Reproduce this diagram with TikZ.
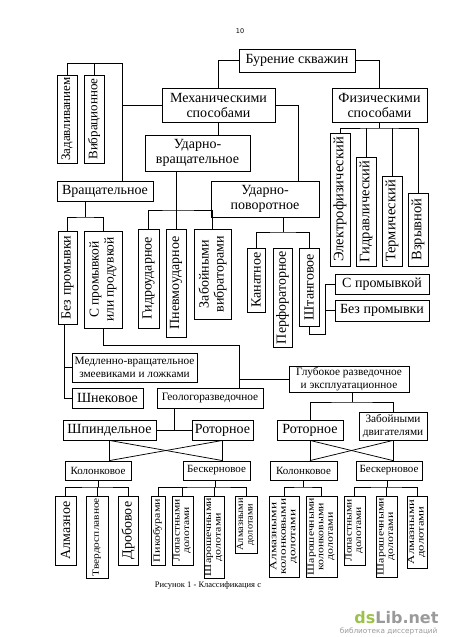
\documentclass[tikz,border=0pt]{standalone}
\usepackage{fontspec}
\setmainfont{Liberation Serif}
\newfontfamily\wmfont{DejaVu Sans}
\usepackage{graphicx}
\definecolor{wmgreen}{HTML}{9CC24A}
\definecolor{wmgray}{HTML}{9A9A9A}
\newcommand\fitb[2]{\resizebox{#1}{\height}{\begin{tabular}{@{}c@{}}#2\end{tabular}}}
\tikzset{
 bx/.style={draw, line width=0.85pt, inner sep=0pt},
 vb/.style={bx, rotate=90},
 fB/.style={font=\fontsize{14}{15}\selectfont},
 fZ/.style={font=\fontsize{13}{14}\selectfont},
 fE/.style={font=\fontsize{14.5}{15}\selectfont},
 fV/.style={font=\fontsize{13.5}{15}\selectfont},
 fM/.style={font=\fontsize{11.3}{12.5}\selectfont},
 fS/.style={font=\fontsize{11}{12}\selectfont},
 fT/.style={font=\fontsize{9.5}{9.5}\selectfont},
 ln/.style={line width=0.75pt},
}
\begin{document}
\begin{tikzpicture}[x=1pt,y=-1pt]
\useasboundingbox (0,0) rectangle (450,637);
\node[font=\wmfont\fontsize{6.5}{7}\selectfont] (pg) at (240,31) {10};
% level 1-2
\node[bx,fB,minimum width=116pt,minimum height=23pt] (bur) at (297,60.5) {Бурение скважин};
\node[bx,fB,align=center,minimum width=113pt,minimum height=34pt] (mech) at (218.5,105) {Механическими\\способами};
\node[bx,fB,align=center,minimum width=95pt,minimum height=34pt] (phys) at (379.5,105) {Физическими\\способами};
\node[vb,fZ,minimum width=88pt,minimum height=20pt] (zad) at (67,119) {Задавливанием};
\node[vb,fZ,minimum width=88pt,minimum height=20pt] (vib) at (94,119) {Вибрационное};
\node[bx,fB,minimum width=96pt,minimum height=20pt] (vrasch) at (105,191) {Вращательное};
\node[bx,fB,align=center,minimum width=105pt,minimum height=36pt] (udvr) at (197.5,153) {Ударно-\\вращательное};
\node[bx,fB,align=center,minimum width=108pt,minimum height=36pt] (udpov) at (265,199) {Ударно-\\поворотное};
\node[vb,fE,minimum width=133pt,minimum height=20pt] (elec) at (340,199.5) {Электрофизический};
\node[vb,fE,minimum width=109pt,minimum height=20pt] (gidr) at (366,211.5) {Гидравлический};
\node[vb,fE,minimum width=90pt,minimum height=20pt] (term) at (392,221) {Термический};
\node[vb,fE,minimum width=73pt,minimum height=20pt] (vzr) at (418,229.5) {Взрывной};
\node[vb,fB,minimum width=93pt,minimum height=19pt] (bez1) at (67.5,277.5) {Без промывки};
\node[vb,fV,align=center,minimum width=97pt,minimum height=38pt] (spromp) at (103,279.5) {С промывкой\\или продувкой};
\node[vb,fB,minimum width=99pt,minimum height=21pt] (gidroud) at (148.5,278.5) {Гидроударное};
\node[vb,fB,minimum width=108pt,minimum height=20pt] (pnev) at (176,283) {Пневмоударное};
\node[vb,fB,align=center,minimum width=90pt,minimum height=37pt] (zabvib) at (212.5,274) {Забойными\\вибраторами};
\node[vb,fB,minimum width=64pt,minimum height=18pt] (kanat) at (256,280) {Канатное};
\node[vb,fB,minimum width=99pt,minimum height=19pt] (perf) at (282.5,297.5) {Перфораторное};
\node[vb,fB,minimum width=78pt,minimum height=20pt] (shtang) at (309,287) {Штанговое};
\node[bx,fB,minimum width=94pt,minimum height=20pt] (sprom) at (382,284) {С промывкой};
\node[bx,fB,minimum width=94pt,minimum height=21pt] (bezprom) at (382,310.5) {Без промывки};
\node[bx,fM,align=center,minimum width=125pt,minimum height=29pt] (medl) at (134.5,367.5) {Медленно-вращательное\\змеевиками и ложками};
\node[bx,fB,minimum width=71pt,minimum height=20pt] (shnek) at (107.5,398) {Шнековое};
\node[bx,fM,minimum width=106pt,minimum height=20pt] (geol) at (210,398) {Геологоразведочное};
\node[bx,fM,align=center,minimum width=120pt,minimum height=26pt] (glub) at (349,379) {Глубокое разведочное\\и эксплуатационное};
\node[bx,fB,minimum width=93pt,minimum height=20pt] (shpind) at (109.5,430) {Шпиндельное};
\node[bx,fB,minimum width=61pt,minimum height=20pt] (rotL) at (222.5,430) {Роторное};
\node[bx,fB,minimum width=66pt,minimum height=20pt] (rotR) at (310,430) {Роторное};
\node[bx,fM,align=center,minimum width=68pt,minimum height=28pt] (zabdv) at (393,426) {Забойными\\двигателями};
\node[bx,fS,minimum width=66pt,minimum height=19pt] (kolL) at (98,470.5) {Колонковое};
\node[bx,fS,minimum width=67pt,minimum height=19pt] (beskL) at (216.5,470.5) {Бескерновое};
\node[bx,fS,minimum width=67pt,minimum height=19pt] (kolR) at (303.5,470.5) {Колонковое};
\node[bx,fS,minimum width=66pt,minimum height=19pt] (beskR) at (389,470.5) {Бескерновое};
% bottom row
\node[vb,fB,minimum width=69pt,minimum height=21pt] (almaz) at (65.5,530.5) {Алмазное};
\node[vb,fT,minimum width=82pt,minimum height=22pt] (tverd) at (97,537) {\fitb{78pt}{Твердосплавное}};
\node[vb,fB,minimum width=69pt,minimum height=20pt] (drob) at (128,530.5) {Дробовое};
\node[vb,fT,minimum width=69pt,minimum height=14pt] (piko) at (158,530.5) {\fitb{63pt}{Пикобурами}};
\node[vb,fT,minimum width=69pt,minimum height=21pt] (lopL) at (182.5,530.5) {\fitb{62pt}{Лопастными\\долотами}};
\node[vb,fT,minimum width=82pt,minimum height=20pt] (sharL) at (214,537) {\fitb{78pt}{Шарошечными\\долотами}};
\node[vb,fT,minimum width=57pt,minimum height=22pt] (almL) at (246,524.5) {\fitb{52pt}{Алмазными\\долотами}};
\node[vb,fT,minimum width=81pt,minimum height=30pt] (almkol) at (284,536.5) {\fitb{76pt}{Алмазными\\колонковыми\\долотами}};
\node[vb,fT,minimum width=81pt,minimum height=31pt] (sharkol) at (321.5,536.5) {\fitb{77pt}{Шарошечными\\колонковыми\\долотами}};
\node[vb,fT,minimum width=69pt,minimum height=21pt] (lopR) at (354.5,530.5) {\fitb{62pt}{Лопастными\\долотами}};
\node[vb,fT,minimum width=81pt,minimum height=21pt] (sharR) at (386.5,536.5) {\fitb{77pt}{Шарошечными\\долотами}};
\node[vb,fT,minimum width=72pt,minimum height=20pt] (almR) at (417,532) {\fitb{64pt}{Алмазными\\долотами}};
\node[font=\fontsize{8.5}{10}\selectfont] (cap) at (208,585) {Рисунок 1 - Классификация с};
\node[font=\wmfont\bfseries\fontsize{16}{17}\selectfont, anchor=east] (wm1) at (442,618) {\textcolor{wmgreen}{ds}\textcolor{wmgray}{Lib.net}};
\node[font=\wmfont\fontsize{7.3}{8}\selectfont, text=wmgray, anchor=east] (wm2) at (441,631) {библиотека диссертаций};
% junction coordinates
\coordinate (vtop) at (122,63);
\coordinate (c298) at (298,0);
\coordinate (j1) at (85,217);
\coordinate (b210) at (0,210);
\coordinate (j3) at (283,232);
\coordinate (j4) at (325,334);
\coordinate (j5) at (379.5,128);
\coordinate (j6) at (64,398);
\coordinate (j7) at (239,345);
\coordinate (j8) at (174,430);
\coordinate (j9) at (352,402);
\coordinate (b1) at (98,487);
\coordinate (b2) at (215,487);
\coordinate (b3) at (303.5,487);
\coordinate (b4) at (387,487);
% connectors
\begin{scope}[ln]
\draw (bur.west) -| (mech.north);
\draw (bur.east) -| (phys.north);
\draw (zad.east) |- (vtop) -- (vtop |- vrasch.north);
\draw (vib.east) -- (vib.east |- vtop);
\draw (mech.west) -- (mech.west -| vtop);
\draw (mech.east) -| (c298 |- udpov.north);
\draw (mech.south) -- (mech.south |- udvr.north);
\draw (phys.south) -- (j5);
\draw (elec.east) |- (j5) -| (vzr.east);
\draw (gidr.east) -- (gidr.east |- j5);
\draw (term.east) -- (term.east |- j5);
\draw (j1 |- vrasch.south) -- (j1);
\draw (bez1.east) |- (j1) -| (spromp.east);
\draw (pnev.east) -- (pnev.east |- udvr.south);
\draw (gidroud.east) |- (b210 -| pnev.east) -| (zabvib.east);
\draw (j3 |- udpov.south) -- (j3);
\draw (kanat.east) |- (j3) -| (shtang.east);
\draw (shtang.west) |- (j4) |- (sprom.west);
\draw (j4 |- bezprom.west) -- (bezprom.west);
\draw (j6 |- bez1.west) -- (j6) -- (shnek.west);
\draw (j6 |- medl.west) -- (medl.west);
\draw (spromp.west) |- (j7) -- (j7 |- geol.north);
\draw (j7 |- glub.west) -- (glub.west);
\draw (shpind.east) -- (rotL.west);
\draw (j8 |- geol.south) -- (j8);
\draw (j9 |- glub.south) -- (j9);
\draw (rotR.north) |- (j9) -| (zabdv.north);
\draw (shpind.south) -- (shpind.south |- kolL.north);
\draw (rotL.south) -- (rotL.south |- beskL.north);
\draw (shpind.south) -- (rotL.south |- beskL.north);
\draw (rotL.south) -- (shpind.south |- kolL.north);
\draw (rotR.south) -- (rotR.south |- kolR.north);
\draw (zabdv.south) -- (zabdv.south |- beskR.north);
\draw (rotR.south) -- (zabdv.south |- beskR.north);
\draw (zabdv.south) -- (rotR.south |- kolR.north);
\draw (kolL.south) -- (b1);
\draw (almaz.east) |- (b1) -| (drob.east);
\draw (tverd.east) -- (tverd.east |- b1);
\draw (b2 |- beskL.south) -- (b2);
\draw (piko.east) |- (b2) -| (almL.east);
\draw (lopL.east) -- (lopL.east |- b2);
\draw (sharL.east) -- (sharL.east |- b2);
\draw (kolR.south) -- (b3);
\draw (almkol.east) |- (b3) -| (sharkol.east);
\draw (b4 |- beskR.south) -- (b4);
\draw (lopR.east) |- (b4) -| (almR.east);
\draw (sharR.east) -- (sharR.east |- b4);
\end{scope}
\end{tikzpicture}
\end{document}
